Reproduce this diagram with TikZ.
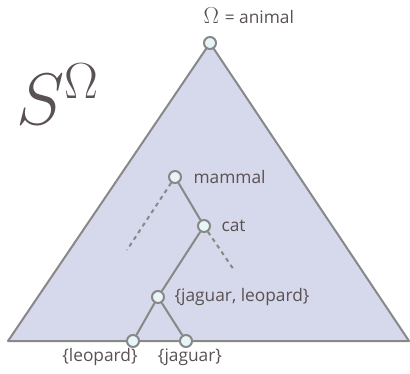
\documentclass[tikz,border=0pt]{standalone}
\usepackage{fontspec}
\setsansfont{Open Sans}
\definecolor{trifill}{HTML}{D6D8EB}
\definecolor{linegray}{HTML}{888888}
\definecolor{nodefill}{HTML}{E8F5F7}
\definecolor{txtgray}{HTML}{5A5252}
\begin{document}
\begin{tikzpicture}[x=0.75pt,y=-0.75pt,
    tnode/.style={circle, draw=linegray, fill=nodefill, line width=1.5pt, minimum size=9pt, inner sep=0pt},
    edge/.style={draw=linegray, line width=1.5pt},
    dashedge/.style={draw=linegray, line width=1.5pt, dash pattern=on 3pt off 3pt},
    lbl/.style={font=\sffamily\fontsize{13}{15}\selectfont, text=txtgray, inner sep=1pt}
]
\useasboundingbox (0,0) rectangle (410,374);

% ---- triangle ----
\coordinate (top) at (210,43);
\coordinate (bl) at (8,341);
\coordinate (br) at (409,341);
\draw[edge, fill=trifill, line join=round] (top) -- (br) -- (bl) -- cycle;

% ---- nodes ----
\node[tnode] (omega) at (210,43) {};
\node[tnode] (mammal) at (175,177) {};
\node[tnode] (cat) at (204,226) {};
\node[tnode] (jl) at (158,297) {};
\node[tnode] (leo) at (133,341) {};
\node[tnode] (jag) at (186,341) {};
\coordinate (dm) at (127,250);
\coordinate (dc) at (234,270);

% ---- edges ----
\draw[edge] (mammal) -- (cat);
\draw[edge] (cat) -- (jl);
\draw[edge] (jl) -- (leo);
\draw[edge] (jl) -- (jag);
\draw[dashedge] (mammal) -- (dm);
\draw[dashedge] (cat) -- (dc);

% ---- labels ----
\node[lbl, anchor=west] (omegalbl) at (202,16) {{\fontsize{17}{17}\selectfont$\Omega$}\,\,= animal};
\node[lbl, anchor=west] at (192,177) {mammal};
\node[lbl, anchor=west] at (220,226) {cat};
\node[lbl, anchor=west] at (173,297) {\{jaguar, leopard\}};
\node[lbl] at (100,357) {\{leopard\}};
\node[lbl] at (190,357) {\{jaguar\}};
\node[text=txtgray, font=\fontsize{24}{28}\selectfont, scale=2.2] at (58,94) {$S^{\Omega}$};
\end{tikzpicture}
\end{document}
